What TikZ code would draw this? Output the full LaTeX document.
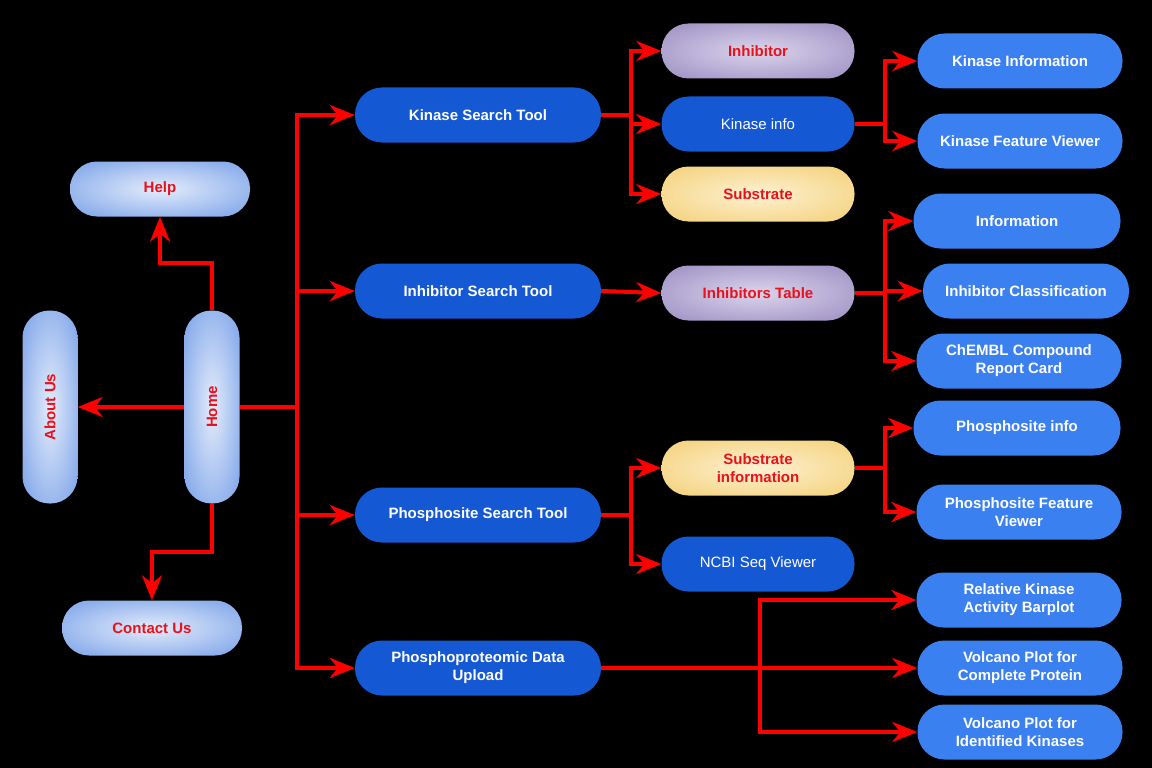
\documentclass[tikz,border=0pt]{standalone}
\usepackage{fontspec}
\setmainfont{Liberation Sans}
\usetikzlibrary{arrows.meta}

\definecolor{toolblue}{HTML}{1458D4}
\definecolor{leafblue}{HTML}{3A80F0}
\definecolor{softedge}{HTML}{6C98E6}
\definecolor{softmid}{HTML}{E4ECFB}
\definecolor{lilacedge}{HTML}{9385BE}
\definecolor{lilacmid}{HTML}{DCD4EB}
\definecolor{goldedge}{HTML}{F3CC6C}
\definecolor{goldmid}{HTML}{FDF1D2}
\definecolor{labelred}{HTML}{E8111C}
\definecolor{wire}{HTML}{FF0000}

% soft glows: pale centre fading to the rim colour towards the node's edge
\pgfdeclareradialshading{softglow}{\pgfpoint{0bp}{0bp}}%
  {color(0bp)=(softmid); color(40bp)=(softedge); color(75bp)=(softedge)}
\pgfdeclareradialshading{lilacglow}{\pgfpoint{0bp}{0bp}}%
  {color(0bp)=(lilacmid); color(40bp)=(lilacedge); color(75bp)=(lilacedge)}
\pgfdeclareradialshading{goldglow}{\pgfpoint{0bp}{0bp}}%
  {color(0bp)=(goldmid); color(40bp)=(goldedge); color(75bp)=(goldedge)}

\tikzset{
  pill/.style={rectangle, rounded corners=27pt, inner sep=0pt, align=center,
    minimum height=55pt, font=\fontsize{15}{18}\selectfont\bfseries},
  tool/.style={pill, fill=toolblue, text=white, minimum width=246pt},
  toolthin/.style={pill, fill=toolblue, text=white, minimum width=193pt,
    font=\fontsize{15}{18}\selectfont},
  leaf/.style={pill, fill=leafblue, text=white, minimum width=205pt},
  navh/.style={pill, text=labelred, minimum width=180pt, shading=softglow},
  navv/.style={pill, text=labelred, minimum width=55pt, minimum height=193pt,
    shading=softglow},
  lilac/.style={pill, text=labelred, minimum width=193pt, shading=lilacglow},
  gold/.style={pill, text=labelred, minimum width=193pt, shading=goldglow},
  wireline/.style={draw=wire, line width=4pt},
  arr/.style={wireline, -{Stealth[length=25pt,width=20pt,inset=8pt]}}
}

\begin{document}
\begin{tikzpicture}[x=1pt,y=-1pt]
  \fill[black] (0,0) rectangle (1152,768);
  \useasboundingbox (0,0) rectangle (1152,768);

  % navigation column
  \node[navh] (help) at (160,189) {Help};
  \node[navv] (about) at (50,407) {\rotatebox{90}{About Us}};
  \node[navv] (home) at (212,407) {\rotatebox{90}{Home}};
  \node[navh] (contact) at (152,628) {Contact Us};

  % tools
  \node[tool] (kst) at (478,115) {Kinase Search Tool};
  \node[tool] (ist) at (478,291) {Inhibitor Search Tool};
  \node[tool] (pst) at (478,515) {Phosphosite Search Tool};
  \node[tool] (pdu) at (478,668) {Phosphoproteomic Data\\Upload};

  % second level
  \node[lilac] (inh) at (758,51) {Inhibitor};
  \node[toolthin] (kinfo) at (758,124) {Kinase info};
  \node[gold] (sub) at (758,194) {Substrate};
  \node[lilac] (itab) at (758,293) {Inhibitors Table};
  \node[gold] (subinfo) at (758,468) {Substrate\\information};
  \node[toolthin] (ncbi) at (758,564) {NCBI Seq Viewer};

  % third level
  \node[leaf] (kinf) at (1020,61) {Kinase Information};
  \node[leaf] (kfv) at (1020,141) {Kinase Feature Viewer};
  \node[leaf, minimum width=207pt] (info) at (1017,221) {Information};
  \node[leaf, minimum width=206pt] (iclass) at (1026,291) {Inhibitor Classification};
  \node[leaf] (chembl) at (1019,361) {ChEMBL Compound\\Report Card};
  \node[leaf, minimum width=207pt] (psinfo) at (1017,428) {Phosphosite info};
  \node[leaf] (psfv) at (1019,512) {Phosphosite Feature\\Viewer};
  \node[leaf] (rka) at (1019,600) {Relative Kinase\\Activity Barplot};
  \node[leaf] (vcp) at (1020,668) {Volcano Plot for\\Complete Protein};
  \node[leaf] (vik) at (1020,732) {Volcano Plot for\\Identified Kinases};

  % branch points
  \coordinate (hub) at (297,407);
  \coordinate (kb) at (631,115);
  \coordinate (ib) at (885,124);
  \coordinate (tb) at (885,293);
  \coordinate (pb) at (631,515);
  \coordinate (sb) at (885,468);
  \coordinate (ub) at (760,668);

  % home links
  \draw[arr] (home.north) -- ++(0,-47) -| (help.south);
  \draw[arr] (home.west) -- (about.east);
  \draw[arr] (home.south) -- ++(0,48) -| (contact.north);
  \draw[wireline] (home.east) -- (hub);
  \draw[arr] (hub) |- (kst.west);
  \draw[arr] (hub) |- (ist.west);
  \draw[arr] (hub) |- (pst.west);
  \draw[arr] (hub) |- (pdu.west);

  % kinase search branch
  \draw[wireline] (kst.east) -- (kb);
  \draw[arr] (kb) |- (inh.west);
  \draw[arr] (kb) |- (kinfo.west);
  \draw[arr] (kb) |- (sub.west);
  \draw[wireline] (kinfo.east) -- (ib);
  \draw[arr] (ib) |- (kinf.west);
  \draw[arr] (ib) |- (kfv.west);

  % inhibitor search branch
  \draw[arr] (ist.east) -- (itab.west);
  \draw[wireline] (itab.east) -- (tb);
  \draw[arr] (tb) |- (info.west);
  \draw[arr] (tb) |- (iclass.west);
  \draw[arr] (tb) |- (chembl.west);

  % phosphosite search branch
  \draw[wireline] (pst.east) -- (pb);
  \draw[arr] (pb) |- (subinfo.west);
  \draw[arr] (pb) |- (ncbi.west);
  \draw[wireline] (subinfo.east) -- (sb);
  \draw[arr] (sb) |- (psinfo.west);
  \draw[arr] (sb) |- (psfv.west);

  % data upload branch
  \draw[arr] (pdu.east) -- (vcp.west);
  \draw[arr] (ub) |- (rka.west);
  \draw[arr] (ub) |- (vik.west);
\end{tikzpicture}
\end{document}
